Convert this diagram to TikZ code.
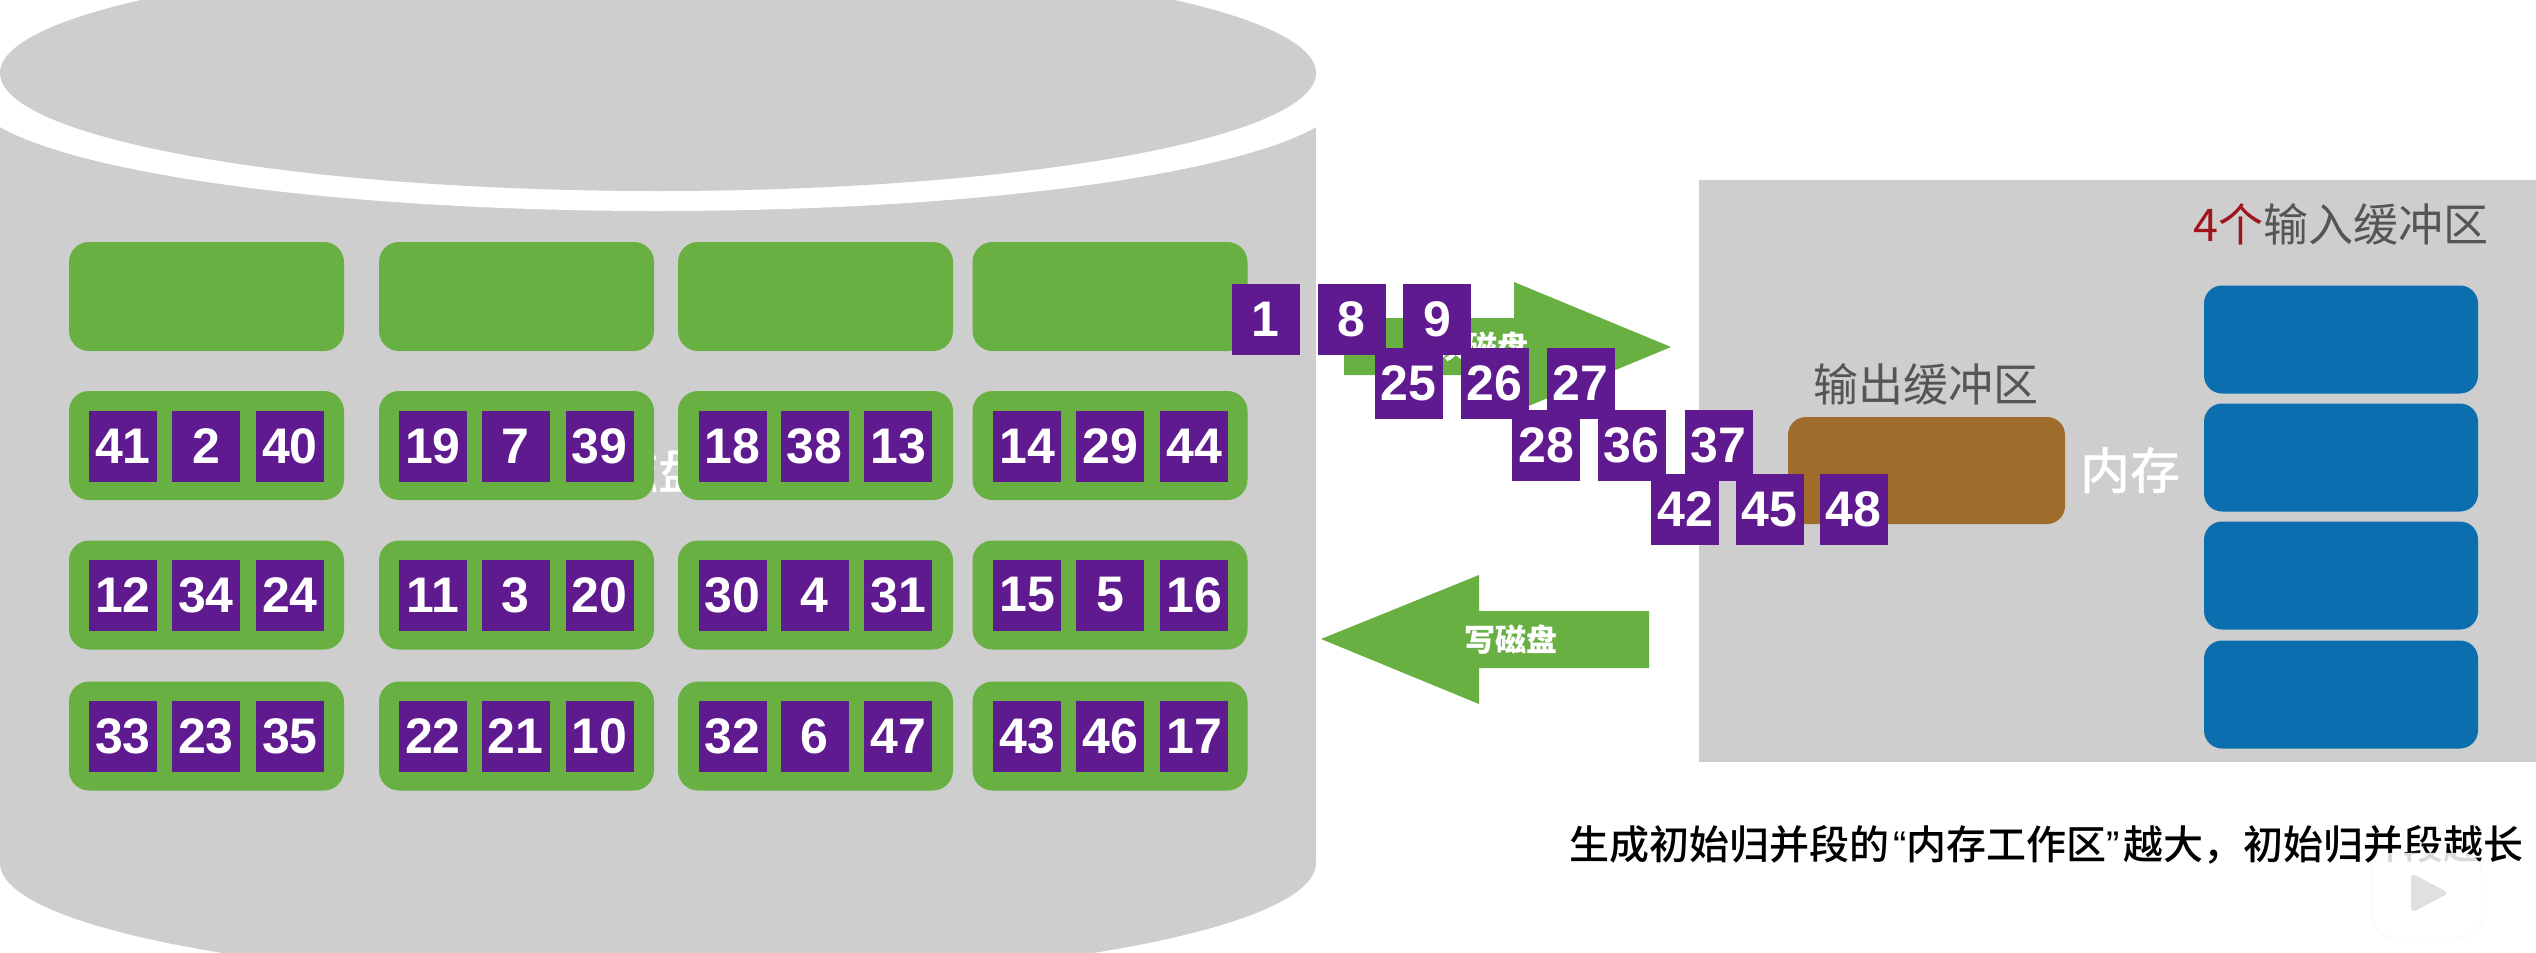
\documentclass[tikz,border=0pt]{standalone}
\usepackage{fontspec}
\setmainfont{Liberation Sans}
\newfontfamily\cjk{Noto Sans CJK SC}
\newfontfamily\cjkmed{Noto Sans CJK SC Medium}
\usetikzlibrary{positioning}

\definecolor{diskgray}{HTML}{CECECE}
\definecolor{runpurple}{HTML}{5F1A8F}
\definecolor{blockgreen}{HTML}{69B043}
\definecolor{inblue}{HTML}{0B6EAE}
\definecolor{outbrown}{HTML}{A06C2C}
\definecolor{labelgray}{HTML}{555555}
\definecolor{countred}{HTML}{A0141C}

\tikzset{
  numbox/.style={fill=runpurple,text=white,inner sep=0pt,minimum width=68pt,
                 minimum height=71pt,font=\bfseries\fontsize{50}{50}\selectfont},
  greenblock/.style={fill=blockgreen,rounded corners=20pt,inner sep=0pt,
                 minimum width=275pt,minimum height=109pt},
  blueblock/.style={fill=inblue,rounded corners=18pt,inner sep=0pt,
                 minimum width=274pt,minimum height=108pt},
  graylabel/.style={text=labelgray,inner sep=0pt,font=\cjk\fontsize{45}{45}\selectfont},
  whitelabel/.style={text=white,inner sep=0pt,font=\cjkmed\fontsize{50}{50}\selectfont},
  arrowlabel/.style={text=white,inner sep=0pt,font=\cjk\bfseries\fontsize{31}{31}\selectfont}
}

\begin{document}
\begin{tikzpicture}[x=1pt,y=-1pt]

  \useasboundingbox (0,0) rectangle (2536,953);

  % the disk
  \fill[diskgray] (658,863) ellipse [x radius=658,y radius=120];
  \fill[diskgray] (0,100) rectangle (1316,863);
  \fill[white] (658,93) ellipse [x radius=687,y radius=118];
  \fill[diskgray] (658,73) ellipse [x radius=658,y radius=118];
  \node[whitelabel] (disklabel) at (658,470) {磁盘};

  % blocks on the disk
  \foreach \cx/\gid in {206.5/a,516.5/b,815.5/c,1110/d}
    \foreach \cy/\rid in {296.5/1,445.5/2,595/3,736/4}
      \node[greenblock] (block\gid\rid) at (\cx,\cy) {};

  % memory
  \fill[diskgray] (1699,180) rectangle (2536,762);
  \node[graylabel] (outlabel) at (1926,384) {输出缓冲区};
  \node[fill=outbrown,rounded corners=18pt,minimum width=277pt,minimum height=107pt,
        inner sep=0pt] (outbuf) at (1926.5,470.5) {};
  \node[whitelabel] (memlabel) at (2130,471) {内存};
  \node[graylabel,anchor=east] (inlabel) at (2489,224)
       {{\color{countred}4个}输入缓冲区};
  \foreach \cy/\rid in {339.5/1,457.5/2,575.5/3,694.5/4}
    \node[blueblock] (inbuf\rid) at (2341,\cy) {};

  % read and write arrows
  \fill[blockgreen] (1344,318) -- (1514,318) -- (1514,282) -- (1671,347)
        -- (1514,412) -- (1514,375) -- (1344,375) -- cycle;
  \node[arrowlabel] (readlabel) at (1482,347) {读磁盘};
  \fill[blockgreen] (1649,611) -- (1479,611) -- (1479,575) -- (1321,639)
        -- (1479,704) -- (1479,668) -- (1649,668) -- cycle;
  \node[arrowlabel] (writelabel) at (1511,640) {写磁盘};

  % runs stored in the blocks
  \foreach \cy/\na/\nb/\nc/\nd/\ne/\nf/\ng/\nh/\ni/\nj/\nk/\nl in {
      446/41/2/40/19/7/39/18/38/13/14/29/44,
      595/12/34/24/11/3/20/30/4/31/15/5/16,
      736/33/23/35/22/21/10/32/6/47/43/46/17}{
    \node[numbox] (n\na) at (123,\cy) {\na};
    \node[numbox] (n\nb) at (206,\cy) {\nb};
    \node[numbox] (n\nc) at (290,\cy) {\nc};
    \node[numbox] (n\nd) at (433,\cy) {\nd};
    \node[numbox] (n\ne) at (515.5,\cy) {\ne};
    \node[numbox] (n\nf) at (599.5,\cy) {\nf};
    \node[numbox] (n\ng) at (732.5,\cy) {\ng};
    \node[numbox] (n\nh) at (814.5,\cy) {\nh};
    \node[numbox] (n\ni) at (898,\cy) {\ni};
    \node[numbox] (n\nj) at (1027,\cy) {\nj};
    \node[numbox] (n\nk) at (1110,\cy) {\nk};
    \node[numbox] (n\nl) at (1194,\cy) {\nl};
  }

  % the output run on its way
  \foreach \num/\cx/\cy in {1/1265.5/319.5,8/1351.5/319.5,9/1437/319.5,
      25/1408.5/383.5,26/1494.5/383.5,27/1580.5/383.5,
      28/1546/445.5,36/1631.5/445.5,37/1718.5/445.5,
      42/1685/509.5,45/1769.5/509.5,48/1853.5/509.5}
    \node[numbox] (n\num) at (\cx,\cy) {\num};

  % remark and logo
  \node[inner sep=0pt,anchor=east,font=\cjkmed\fontsize{40}{40}\selectfont] (remark)
       at (2524,845) {生成初始归并段的\hspace{4pt}{\rmfamily “}内存工作区{\rmfamily ”}\hspace{4pt}越大，初始归并段越长};
  \node[fill=white,fill opacity=0.85,draw=black!6,rounded corners=20pt,minimum width=110pt,
        minimum height=84pt,inner sep=0pt] (logo) at (2427,895) {};
  \fill[black!12,rounded corners=5pt] (2411,873) -- (2449,893) -- (2411,913) -- cycle;

\end{tikzpicture}
\end{document}
